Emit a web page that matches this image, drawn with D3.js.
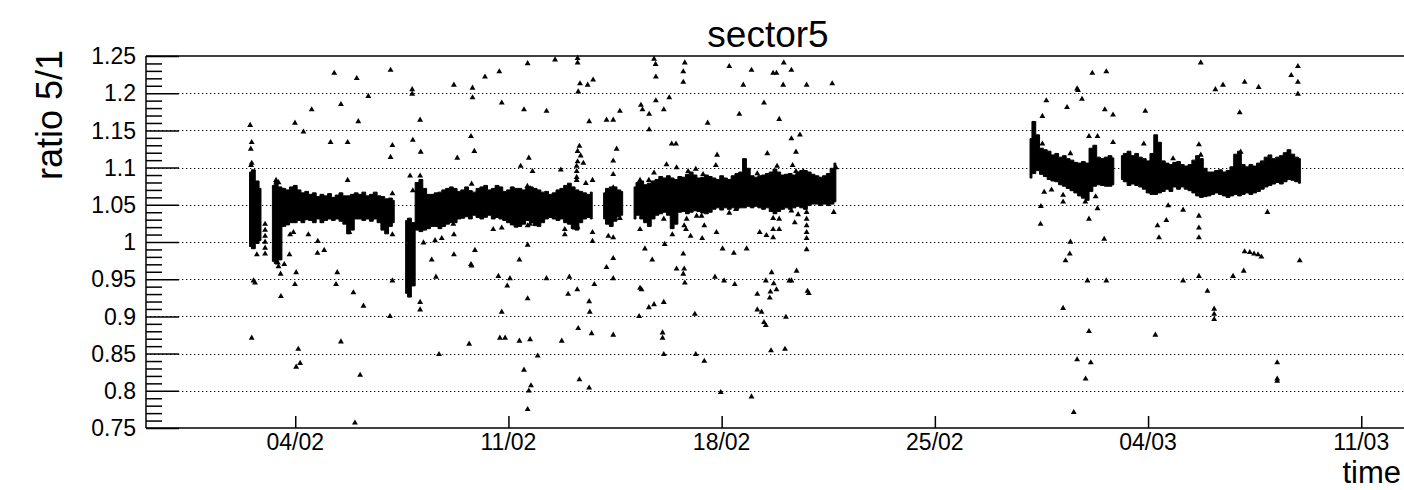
<!DOCTYPE html>
<html>
<head>
<meta charset="utf-8">
<script src="https://cdn.jsdelivr.net/npm/d3@7"></script>
<style>
  body { margin: 0; background: #fff; }
  svg { display: block; }
  text { font-family: "Liberation Sans", Arial, Helvetica, sans-serif; fill: #000; }
</style>
</head>
<body>
<svg id="chart" width="1404" height="490"></svg>
<script>
// ---- labels ----
const title = "sector5";
const xTitle = "time";
const yTitle = "ratio 5/1";

// ---- axes (time in days since 01/02 00:00 UTC) ----
const timeRange = [-1.9, 39.6];
const valueRange = [0.75, 1.25];
const xTickDays = [3, 10, 17, 24, 31, 38];
const xTickLabels = ["04/02", "11/02", "18/02", "25/02", "04/03", "11/03"];
const yTickValues = [0.75, 0.8, 0.85, 0.9, 0.95, 1, 1.05, 1.1, 1.15, 1.2, 1.25];
const yTickLabels = ["0.75", "0.8", "0.85", "0.9", "0.95", "1", "1.05", "1.1", "1.15", "1.2", "1.25"];

// ---- dense band of measurements: time, lower and upper envelope (null = no data) ----
const bandTime = [
  1.500, 1.625, 1.750, 1.875, 2.000,
  2.250, 2.375, 2.500, 2.625, 2.750, 2.875, 3.000, 3.125, 3.250, 3.375, 3.500, 3.625, 3.750, 3.875,
  4.000, 4.125, 4.250, 4.375, 4.500, 4.625, 4.750, 4.875, 5.000, 5.125, 5.250, 5.375, 5.500, 5.625,
  5.750, 5.875, 6.000, 6.125, 6.250, 6.375,
  6.625, 6.750, 6.875, 7.000, 7.125, 7.250, 7.375, 7.500, 7.625, 7.750, 7.875, 8.000, 8.125, 8.250,
  8.375, 8.500, 8.625, 8.750, 8.875, 9.000, 9.125, 9.250, 9.375, 9.500, 9.625, 9.750, 9.875, 10.000,
  10.125, 10.250, 10.375, 10.500, 10.625, 10.750, 10.875, 11.000, 11.125, 11.250, 11.375, 11.500,
  11.625, 11.750, 11.875, 12.000, 12.125, 12.250, 12.375, 12.500, 12.625, 12.750, 12.875,
  13.125, 13.250, 13.375, 13.500, 13.625, 13.750, 13.875,
  14.125, 14.250, 14.375, 14.500, 14.625, 14.750, 14.875, 15.000, 15.125, 15.250, 15.375, 15.500,
  15.625, 15.750, 15.875, 16.000, 16.125, 16.250, 16.375, 16.500, 16.625, 16.750, 16.875, 17.000,
  17.125, 17.250, 17.375, 17.500, 17.625, 17.750, 17.875, 18.000, 18.125, 18.250, 18.375, 18.500,
  18.625, 18.750, 18.875, 19.000, 19.125, 19.250, 19.375, 19.500, 19.625, 19.750, 19.875, 20.000,
  20.125, 20.250, 20.375, 20.500, 20.625, 20.750, 20.875,
  27.125, 27.250, 27.375, 27.500, 27.625, 27.750, 27.875, 28.000, 28.125, 28.250, 28.375, 28.500,
  28.625, 28.750, 28.875, 29.000, 29.125, 29.250, 29.375, 29.500, 29.625, 29.750, 29.875, 30.000,
  30.125, 30.250, 30.375, 30.500, 30.625, 30.750, 30.875, 31.000, 31.125, 31.250, 31.375, 31.500,
  31.625, 31.750, 31.875, 32.000, 32.125, 32.250, 32.375, 32.500, 32.625, 32.750, 32.875, 33.000,
  33.125, 33.250, 33.375, 33.500, 33.625, 33.750, 33.875, 34.000, 34.125, 34.250, 34.375, 34.500,
  34.625, 34.750, 34.875, 35.000, 35.125, 35.250, 35.375, 35.500, 35.625, 35.750, 35.875, 36.000
];
const bandLow = [
  0.998, 0.995, 1.002, 1.006, null,
  0.978, 0.975, 0.980, 1.025, 1.027, 1.030, 1.030, 1.033, 1.030, 1.034, 1.033, 1.030, 1.035, 1.030,
  1.033, 1.035, 1.033, 1.035, 1.032, 1.028, 1.015, 1.020, 1.035, 1.035, 1.033, 1.035, 1.032, 1.035,
  1.030, 1.020, 1.015, 1.025, 1.030, null,
  0.935, 0.930, 0.945, 1.020, 1.018, 1.020, 1.022, 1.025, 1.025, 1.022, 1.025, 1.028, 1.030, 1.030,
  1.035, 1.036, 1.038, 1.035, 1.040, 1.037, 1.035, 1.038, 1.040, 1.035, 1.037, 1.035, 1.033, 1.030,
  1.027, 1.024, 1.025, 1.028, 1.033, 1.030, 1.026, 1.025, 1.030, 1.035, 1.037, 1.035,
  1.033, 1.035, 1.030, 1.028, 1.022, 1.020, 1.030, 1.035, 1.037, 1.035, null,
  1.035, 1.028, 1.025, 1.032, 1.038, 1.040, null,
  1.035, 1.040, 1.035, 1.030, 1.025, 1.035, 1.040, 1.042, 1.044, 1.040, 1.022, 1.028,
  1.044, 1.045, 1.042, 1.044, 1.046, 1.045, 1.043, 1.042, 1.044, 1.048, 1.050, 1.047,
  1.050, 1.048, 1.050, 1.048, 1.050, 1.050, 1.052, 1.050, 1.052, 1.050, 1.048, 1.050,
  1.045, 1.042, 1.045, 1.048, 1.050, 1.048, 1.050, 1.052, 1.050, 1.048, 1.053, 1.055,
  1.055, 1.053, 1.055, 1.053, 1.055, 1.058, null,
  1.090, 1.096, 1.100, 1.095, 1.092, 1.088, 1.086, 1.085, 1.081, 1.079, 1.076, 1.073,
  1.070, 1.066, 1.063, 1.060, 1.072, 1.079, 1.081, 1.080, 1.079, 1.079, 1.081, null,
  1.088, 1.085, 1.080, 1.082, 1.080, 1.078, 1.075, 1.070, 1.068, 1.068, 1.070, 1.072,
  1.075, 1.072, 1.078, 1.075, 1.078, 1.075, 1.073, 1.070, 1.066, 1.064, 1.065, 1.066,
  1.068, 1.070, 1.068, 1.066, 1.064, 1.066, 1.068, 1.066, 1.068, 1.070, 1.068, 1.070,
  1.072, 1.075, 1.078, 1.080, 1.082, 1.084, 1.082, 1.085, 1.088, 1.087, 1.085, 1.083
];
const bandHigh = [
  1.090, 1.093, 1.078, 1.068, null,
  1.072, 1.078, 1.070, 1.068, 1.066, 1.070, 1.072, 1.066, 1.062, 1.064, 1.060, 1.062, 1.057, 1.060,
  1.058, 1.061, 1.056, 1.059, 1.062, 1.058, 1.058, 1.060, 1.062, 1.060, 1.063, 1.058, 1.060, 1.063,
  1.058, 1.057, 1.054, 1.055, 1.052, null,
  1.025, 1.028, 1.022, 1.076, 1.080, 1.068, 1.060, 1.060, 1.062, 1.063, 1.066, 1.068, 1.070, 1.068,
  1.064, 1.066, 1.070, 1.065, 1.063, 1.068, 1.070, 1.072, 1.066, 1.068, 1.072, 1.070, 1.064, 1.066,
  1.070, 1.068, 1.068, 1.066, 1.068, 1.070, 1.068, 1.066, 1.063, 1.064, 1.060, 1.062,
  1.066, 1.068, 1.072, 1.075, 1.070, 1.066, 1.064, 1.062, 1.060, 1.063, null,
  1.062, 1.068, 1.070, 1.070, 1.066, 1.064, null,
  1.070, 1.076, 1.078, 1.073, 1.075, 1.078, 1.080, 1.084, 1.082, 1.085, 1.082, 1.080,
  1.084, 1.083, 1.087, 1.090, 1.086, 1.082, 1.083, 1.086, 1.084, 1.082, 1.080, 1.085,
  1.082, 1.080, 1.085, 1.088, 1.090, 1.108, 1.095, 1.085, 1.083, 1.085, 1.086, 1.088,
  1.090, 1.094, 1.090, 1.086, 1.087, 1.088, 1.086, 1.090, 1.092, 1.092, 1.090, 1.087,
  1.085, 1.083, 1.085, 1.088, 1.095, 1.102, null,
  1.135, 1.158, 1.140, 1.122, 1.120, 1.118, 1.113, 1.115, 1.110, 1.112, 1.108, 1.106,
  1.103, 1.102, 1.104, 1.102, 1.122, 1.126, 1.110, 1.108, 1.110, 1.112, 1.109, null,
  1.112, 1.115, 1.118, 1.112, 1.115, 1.110, 1.108, 1.105, 1.115, 1.140, 1.130, 1.105,
  1.102, 1.100, 1.103, 1.104, 1.100, 1.098, 1.100, 1.106, 1.112, 1.108, 1.095, 1.090,
  1.090, 1.092, 1.093, 1.090, 1.092, 1.097, 1.114, 1.118, 1.100, 1.097, 1.100, 1.098,
  1.102, 1.105, 1.110, 1.113, 1.108, 1.110, 1.112, 1.116, 1.120, 1.114, 1.110, 1.108
];

// ---- isolated measurements ----
const pointTime = [
  1.52, 1.57, 1.54, 1.57, 1.55, 1.74, 1.63, 1.68, 1.57, 2.37, 2.45, 2.43, 2.45, 2.64, 2.52, 2.53,
  2.01, 2.01, 2.01, 2.01, 2.01, 2.01,
  2.94, 2.83, 2.81, 2.99, 3.27, 3.03, 2.99, 3.10, 3.03, 3.16, 3.43, 3.54, 3.74, 3.73, 3.95,
  4.16, 4.28, 4.50, 4.72, 4.72, 4.78, 4.38, 4.34, 4.50, 4.91, 4.96, 5.02, 5.07, 5.40, 5.24, 5.13,
  6.13, 6.13, 6.19, 6.19, 6.19, 6.19, 6.11, 6.84, 6.84, 6.86, 6.77, 6.86, 7.10, 7.12, 7.10, 7.21,
  7.10, 7.10, 7.48, 7.59, 7.62, 7.81, 7.72,
  10.63, 11.53, 12.27, 12.27, 9.70, 9.23, 8.21, 8.82, 8.82, 12.35, 12.60, 12.78, 14.78, 14.83, 14.84,
  9.78, 10.51, 11.25, 12.29, 12.65, 13.22, 13.44, 13.66, 14.35, 14.40, 14.62, 14.84, 14.62,
  8.77, 8.88, 8.32, 10.67, 10.40, 10.79, 11.72, 12.33, 12.27, 12.37, 12.27, 12.46, 12.24, 12.24,
  12.24, 12.24, 12.54, 12.76, 13.55, 13.44, 13.44, 13.44, 14.32, 14.61, 14.78, 10.62, 10.71, 8.79,
  8.19, 8.21, 8.88, 9.23, 9.56, 9.50, 9.78, 10.63, 10.71, 11.85, 11.85, 12.18, 12.27, 12.76, 12.76,
  13.28, 13.44, 13.66, 14.32, 14.48, 14.72, 10.63, 8.90, 8.21, 8.77, 8.79, 10.36, 13.22, 13.44,
  9.67, 10.05, 9.96, 11.25, 12.00, 12.26, 11.96, 12.82, 13.44, 14.32, 14.37, 10.63, 12.65, 12.67,
  9.78, 14.61, 14.78, 14.29, 12.29, 12.73, 13.44, 9.72, 9.89, 10.36, 10.71, 11.75, 8.71, 10.96,
  10.51, 10.74, 10.67, 12.33, 12.65, 10.63,
  15.79, 15.74, 15.74, 17.25, 17.98, 18.69, 18.80, 19.04, 19.29, 17.71, 19.02, 19.79, 20.63,
  15.28, 15.10, 18.39, 17.58, 18.89, 16.54, 19.29, 19.57, 15.36, 15.50, 16.85, 18.50, 19.44,
  15.19, 15.52, 16.81, 18.82, 19.33, 19.44, 19.68, 20.75, 15.90, 16.15, 18.17, 18.75, 16.39, 16.67,
  17.00, 20.68, 15.10, 15.85, 16.18, 16.34, 17.25, 17.47, 19.29, 19.51, 19.40, 18.89, 18.69, 18.69,
  18.89, 15.77, 15.83, 16.43, 16.83, 18.25, 18.47, 18.69, 15.38, 15.98, 16.36, 15.13,
  17.03, 17.40, 17.82, 19.79, 15.74, 15.52, 15.77, 15.74, 15.79, 16.78, 17.08, 17.43, 18.64, 18.45,
  18.71, 19.22, 19.29, 19.46, 18.17, 18.60, 18.80, 18.58, 19.82, 19.86, 15.10, 16.12, 18.17, 18.31,
  18.39, 18.45, 19.11, 15.06, 15.06, 15.10, 16.15, 16.43, 18.62, 19.08, 16.97, 17.98,
  19.79, 19.79, 19.79, 19.79, 19.79,
  29.17, 29.63, 28.67, 28.70, 27.66, 28.83, 28.34, 27.53, 29.58, 29.85, 30.91, 29.06, 29.34, 29.85,
  30.86, 27.53, 28.45, 27.59, 27.83, 28.21, 28.21, 28.94, 29.06, 29.28, 29.34, 27.48, 29.06, 27.47,
  28.45, 28.43, 28.29, 29.56, 31.31, 31.36, 29.01, 29.63, 28.21, 29.06, 31.24, 28.67, 29.12, 28.95,
  28.56,
  32.73, 33.21, 33.46, 34.17, 34.63, 35.70, 35.92, 35.92, 35.92, 34.01, 32.67, 32.73, 34.04, 31.82,
  31.66, 32.15, 32.67, 32.67, 32.67, 31.60, 34.92, 34.17, 34.34, 34.48, 34.61, 34.72, 35.98,
  32.15, 32.67, 33.79, 34.14, 32.95, 33.17, 33.17, 33.17, 35.24, 35.24, 35.24
];
const pointValue = [
  1.157, 1.134, 1.125, 1.106, 1.103, 0.983, 0.948, 0.945, 0.871, 1.083, 1.080, 0.972, 0.967, 0.970, 0.957, 0.927,
  1.024, 1.016, 1.008, 1.000, 0.992, 0.984,
  1.013, 1.010, 0.983, 1.160, 1.148, 0.959, 0.943, 0.856, 0.832, 0.837, 1.010, 1.178, 1.001, 0.985, 0.989,
  1.134, 1.227, 1.185, 1.134, 1.083, 1.013, 0.959, 0.943, 0.866, 0.932, 0.757, 1.220, 1.162, 1.196, 0.914, 0.821,
  1.231, 1.114, 1.130, 1.065, 1.010, 0.948, 0.900, 1.205, 1.199, 1.137, 1.089, 1.069, 1.164, 1.121, 1.089, 0.999,
  0.919, 0.909, 0.976, 1.002, 0.953, 1.005, 0.849,
  1.240, 1.245, 1.241, 1.247, 1.229, 1.222, 1.211, 1.207, 1.194, 1.213, 1.211, 1.218, 1.246, 1.239, 1.222,
  1.187, 1.178, 1.176, 1.202, 1.162, 1.164, 1.164, 1.176, 1.184, 1.178, 1.172, 1.190, 1.151,
  1.142, 1.122, 1.113, 1.113, 1.102, 1.095, 1.097, 1.129, 1.122, 1.116, 1.108, 1.106, 1.102, 1.095,
  1.087, 1.083, 1.079, 1.083, 1.125, 1.109, 1.091, 1.073, 1.083, 1.083, 1.093, 1.075, 1.072, 1.078,
  1.024, 1.010, 1.039, 1.035, 1.037, 1.017, 1.019, 1.022, 1.024, 1.017, 1.010, 1.019, 1.020, 1.013, 1.001,
  1.008, 1.006, 1.032, 1.017, 0.991, 0.976, 0.996, 0.989, 0.983, 0.970, 0.968, 0.976, 0.966, 0.978,
  0.954, 0.951, 0.941, 0.951, 0.953, 0.936, 0.930, 0.943, 0.951, 0.938, 0.936, 0.924, 0.920, 0.906,
  0.906, 0.912, 0.916, 0.900, 0.884, 0.877, 0.875, 0.871, 0.871, 0.867, 0.869, 0.867, 0.863, 0.847,
  0.828, 0.807, 0.800, 0.815, 0.804, 0.775,
  1.241, 1.229, 1.215, 1.236, 1.231, 1.227, 1.227, 1.241, 1.231, 1.211, 1.211, 1.211, 1.213,
  1.194, 1.178, 1.187, 1.172, 1.165, 1.160, 1.139, 1.144, 1.132, 1.132, 1.117, 1.119, 1.121,
  1.104, 1.100, 1.103, 1.102, 1.103, 1.095, 1.095, 1.100, 1.095, 1.098, 1.092, 1.094, 1.091, 1.081,
  1.081, 1.040, 1.031, 1.031, 1.035, 1.035, 1.039, 1.044, 1.042, 1.037, 1.026, 1.031, 1.032, 1.017,
  1.017, 1.022, 1.017, 1.022, 1.013, 1.013, 1.009, 1.006, 1.010, 1.008, 1.005, 0.997,
  0.991, 0.985, 0.991, 0.990, 0.984, 0.964, 0.964, 0.957, 0.945, 0.953, 0.948, 0.943, 0.959, 0.948,
  0.944, 0.948, 0.948, 0.961, 0.930, 0.933, 0.936, 0.925, 0.934, 0.931, 0.919, 0.903, 0.909, 0.906,
  0.892, 0.888, 0.899, 0.878, 0.871, 0.849, 0.849, 0.840, 0.854, 0.856, 0.798, 0.792,
  1.040, 1.031, 1.022, 1.013, 1.005,
  1.227, 1.229, 1.206, 1.204, 1.190, 1.192, 1.181, 1.169, 1.178, 1.171, 1.176, 1.142, 1.142, 1.134,
  1.132, 1.132, 1.119, 1.067, 1.070, 1.063, 1.054, 1.054, 1.078, 1.061, 1.045, 1.048, 1.031, 1.024,
  1.000, 0.984, 0.975, 1.004, 1.022, 1.006, 0.948, 0.948, 0.911, 0.880, 0.875, 0.842, 0.838, 0.816,
  0.771,
  1.241, 1.205, 1.211, 1.215, 1.208, 1.224, 1.236, 1.215, 1.199, 1.174, 1.131, 1.117, 1.121, 1.112,
  1.049, 1.043, 1.035, 1.019, 1.006, 1.029, 1.040, 0.987, 0.986, 0.984, 0.983, 0.980, 0.975,
  0.948, 0.954, 0.954, 0.961, 0.934, 0.910, 0.903, 0.896, 0.838, 0.816, 0.813
];

// ---- layout ----
const W = 1404, H = 490;
const frame = { left: 146, right: 1410, top: 56, bottom: 428 };
const markerHalf = 3;           // half height of a marker, in pixels
const dayMs = 864e5;
const epoch = Date.UTC(2023, 1, 1);
const toDate = d => new Date(epoch + d * dayMs);

const svg = d3.select("#chart");

const x = d3.scaleUtc()
  .domain(timeRange.map(toDate))
  .range([frame.left, frame.right]);
const y = d3.scaleLinear()
  .domain(valueRange)
  .range([frame.bottom, frame.top]);

// dotted horizontal grid
svg.append("g")
  .selectAll("line")
  .data(yTickValues.slice(1, -1))
  .join("line")
  .attr("x1", frame.left).attr("x2", frame.right)
  .attr("y1", d => Math.round(y(d)) + 0.5).attr("y2", d => Math.round(y(d)) + 0.5)
  .attr("stroke", "#000")
  .attr("stroke-width", 1)
  .attr("stroke-dasharray", "1.3,2.7");

// band of dense measurements (markers overlap into a solid envelope)
const band = bandTime.map((t, i) => ({ t, lo: bandLow[i], hi: bandHigh[i] }));
const area = d3.area()
  .defined(d => d.lo != null)
  .x(d => x(toDate(d.t)))
  .y0(d => y(d.lo) + markerHalf)
  .y1(d => y(d.hi) - markerHalf)
  .curve(d3.curveStep);
svg.append("path")
  .datum(band)
  .attr("d", area)
  .attr("fill", "#000")
  .attr("stroke", "#000")
  .attr("stroke-width", 1)
  .attr("stroke-linejoin", "miter");

// isolated markers
const tri = d3.symbol().type(d3.symbolTriangle).size(15);
svg.append("g")
  .selectAll("path")
  .data(pointTime.map((t, i) => ({ t, v: pointValue[i] })))
  .join("path")
  .attr("d", tri)
  .attr("transform", d => `translate(${x(toDate(d.t))},${y(d.v)})`)
  .attr("fill", "#000");

// frame
const axisG = svg.append("g").attr("stroke", "#000").attr("fill", "none");
axisG.append("line").attr("x1", frame.left).attr("x2", frame.right)
  .attr("y1", frame.top).attr("y2", frame.top).attr("stroke-width", 1.5);
axisG.append("line").attr("x1", frame.left).attr("x2", frame.right)
  .attr("y1", frame.bottom).attr("y2", frame.bottom).attr("stroke-width", 1.5);
axisG.append("line").attr("x1", frame.left).attr("x2", frame.left)
  .attr("y1", frame.top).attr("y2", frame.bottom).attr("stroke-width", 1.5);

// y axis: major and minor ticks drawn inward
const yAxis = d3.axisRight(y)
  .tickValues(yTickValues)
  .tickSize(33)
  .tickFormat("");
const yAx = svg.append("g").attr("transform", `translate(${frame.left},0)`).call(yAxis);
yAx.select(".domain").remove();
yAx.selectAll("line").attr("stroke", "#000").attr("stroke-width", 1.5);

const minorValues = d3.range(76, 125).filter(k => k % 5 !== 0).map(k => k / 100);
const yMinor = d3.axisRight(y).tickValues(minorValues).tickSize(16).tickFormat("");
const yMi = svg.append("g").attr("transform", `translate(${frame.left},0)`).call(yMinor);
yMi.select(".domain").remove();
yMi.selectAll("line").attr("stroke", "#000").attr("stroke-width", 1.5);

svg.append("g")
  .selectAll("text")
  .data(yTickValues)
  .join("text")
  .attr("x", 136)
  .attr("y", d => y(d))
  .attr("dy", "0.36em")
  .attr("text-anchor", "end")
  .attr("font-size", 23)
  .text((d, i) => yTickLabels[i]);

// x axis: ticks drawn upward from the bottom frame
const xAxis = d3.axisTop(x)
  .tickValues(xTickDays.map(toDate))
  .tickSize(12)
  .tickFormat("");
const xAx = svg.append("g").attr("transform", `translate(0,${frame.bottom})`).call(xAxis);
xAx.select(".domain").remove();
xAx.selectAll("line").attr("stroke", "#000").attr("stroke-width", 1.5);

svg.append("g")
  .selectAll("text")
  .data(xTickDays)
  .join("text")
  .attr("x", d => x(toDate(d)))
  .attr("y", 450)
  .attr("text-anchor", "middle")
  .attr("font-size", 23)
  .text((d, i) => xTickLabels[i]);

// titles
svg.append("text")
  .attr("x", 768).attr("y", 47)
  .attr("text-anchor", "middle")
  .attr("font-size", 37)
  .text(title);

svg.append("text")
  .attr("transform", "translate(62,50) rotate(-90)")
  .attr("text-anchor", "end")
  .attr("font-size", 36)
  .text(yTitle);

svg.append("text")
  .attr("x", 1401).attr("y", 483)
  .attr("text-anchor", "end")
  .attr("font-size", 31)
  .text(xTitle);
</script>
</body>
</html>
